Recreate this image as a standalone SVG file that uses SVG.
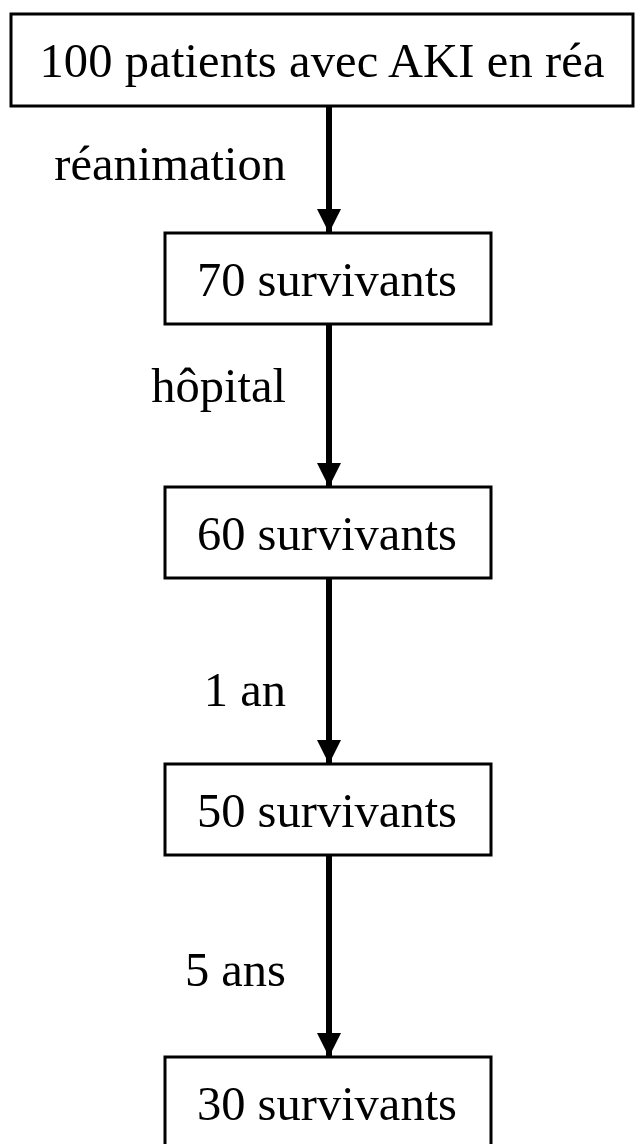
<svg xmlns="http://www.w3.org/2000/svg" width="635" height="1144" viewBox="0 0 635 1144">
<defs>
<style>
.box{fill:#fff;stroke:#000;stroke-width:3}
.t{font-family:"Liberation Serif","Times New Roman",serif;font-size:48.5px;fill:#000}
.c{text-anchor:middle}
.l{text-anchor:end}
.edge{stroke:#000;stroke-width:6;fill:none}
</style>
<marker id="ah" viewBox="0 0 24 24" markerWidth="24" markerHeight="24" refX="24" refY="12" orient="auto" markerUnits="userSpaceOnUse">
<path d="M0,0 L24,12 L0,24 Z" fill="#000"/>
</marker>
</defs>
<rect width="635" height="1144" fill="#fff"/>
<g id="connectors">
<line class="edge" x1="329" y1="106" x2="329" y2="233" marker-end="url(#ah)"/>
<line class="edge" x1="329" y1="324" x2="329" y2="487" marker-end="url(#ah)"/>
<line class="edge" x1="329" y1="578" x2="329" y2="764" marker-end="url(#ah)"/>
<line class="edge" x1="329" y1="855" x2="329" y2="1057" marker-end="url(#ah)"/>
<text class="t l" x="286" y="180">réanimation</text>
<text class="t l" x="286" y="402">hôpital</text>
<text class="t l" x="286" y="706">1 an</text>
<text class="t l" x="286" y="986">5 ans</text>
</g>
<g id="n1"><rect class="box" x="11" y="14" width="622" height="92"/><text class="t c" x="322" y="77" textLength="565">100 patients avec AKI en réa</text></g>
<g id="n2"><rect class="box" x="165" y="233" width="326" height="91"/><text class="t c" x="327" y="296">70 survivants</text></g>
<g id="n3"><rect class="box" x="165" y="487" width="326" height="91"/><text class="t c" x="327" y="550">60 survivants</text></g>
<g id="n4"><rect class="box" x="165" y="764" width="326" height="91"/><text class="t c" x="327" y="827">50 survivants</text></g>
<g id="n5"><rect class="box" x="165" y="1057" width="326" height="100"/><text class="t c" x="327" y="1120">30 survivants</text></g>
</svg>
